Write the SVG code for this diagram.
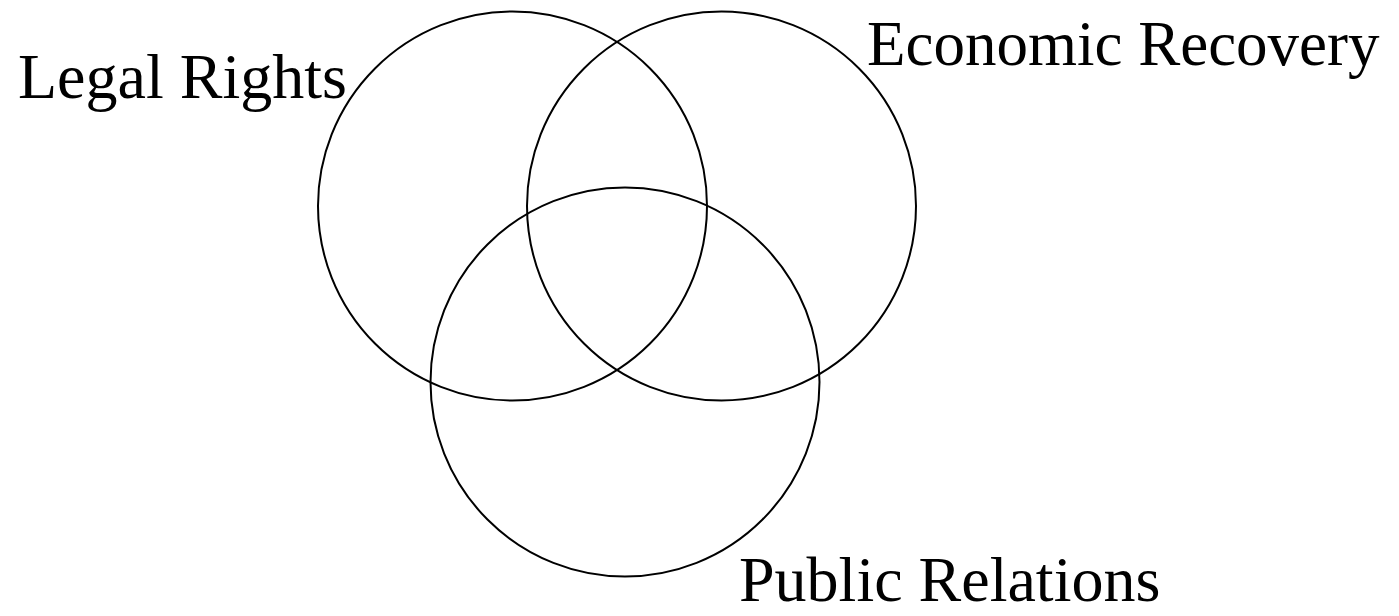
<svg xmlns="http://www.w3.org/2000/svg" width="1399" height="616" viewBox="0 0 1399 616">
<style>
.c{fill:none;stroke:#000;stroke-width:2}
.t{font-family:"Liberation Serif","Times New Roman",serif;font-size:64px;fill:#000}
</style>
<rect width="1399" height="616" fill="#fff"/>
<g id="legal"><circle class="c" cx="512.5" cy="206" r="194.5"/><text class="t" x="18" y="98">Legal Rights</text></g>
<g id="economic"><circle class="c" cx="721.5" cy="206" r="194.5"/><text class="t" x="867" y="65" style="font-size:63px">Economic Recovery</text></g>
<g id="public"><circle class="c" cx="625" cy="382" r="194.5"/><text class="t" x="739" y="601">Public Relations</text></g>
<g id="connectors"></g>
</svg>
